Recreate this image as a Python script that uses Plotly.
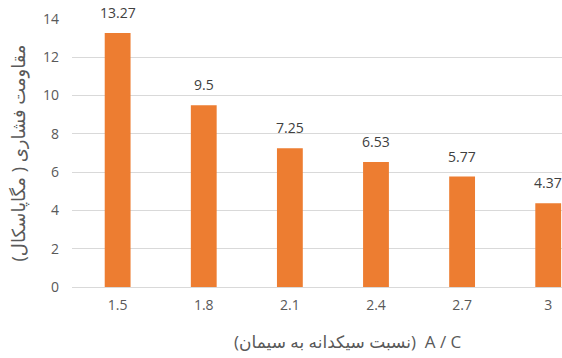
import plotly.graph_objects as go

# Aggregate-to-cement ratio and compressive strength (MPa)
ratios = ["1.5", "1.8", "2.1", "2.4", "2.7", "3"]
strength = [13.27, 9.5, 7.25, 6.53, 5.77, 4.37]
y_ticks = [0, 2, 4, 6, 8, 10, 12, 14]

BAR = "#ED7D31"
GRID = "#D9D9D9"
TICK = "#595959"
LABEL = "#404040"
FONT = "Open Sans, DejaVu Sans, sans-serif"

fig = go.Figure()
fig.add_trace(go.Bar(
    x=list(range(len(ratios))),
    y=strength,
    marker=dict(color=BAR, line=dict(width=0)),
    width=0.3,
    hoverinfo="skip",
))

# value labels above each bar
for i, v in enumerate(strength):
    fig.add_annotation(
        x=i, y=v, text=f"{v:g}", showarrow=False,
        yanchor="bottom", yshift=9,
        font=dict(family=FONT, size=14, color=LABEL),
    )

# x-axis title (right-to-left paragraph)
fig.add_annotation(
    xref="paper", yref="paper", x=0.563, y=-0.205,
    xanchor="center", yanchor="middle", showarrow=False,
    text="\u202bA / C  (نسبت سیکدانه به سیمان)\u202c",
    font=dict(family=FONT, size=17, color=TICK),
)

fig.update_layout(
    width=562, height=358,
    margin=dict(l=72, r=0, t=19, b=71),
    paper_bgcolor="white", plot_bgcolor="white",
    showlegend=False,
    font=dict(family=FONT, color=TICK),
    xaxis=dict(
        range=[-0.53, 5.16],
        tickmode="array",
        tickvals=list(range(len(ratios))),
        ticktext=ratios,
        showgrid=False, zeroline=False, showline=False,
        ticks="", ticklabelstandoff=8,
        tickfont=dict(family=FONT, size=14, color=TICK),
        fixedrange=True,
    ),
    yaxis=dict(
        range=[0, 14],
        tickmode="array", tickvals=y_ticks,
        showgrid=True, gridcolor=GRID, gridwidth=1,
        zeroline=True, zerolinecolor=GRID, zerolinewidth=1,
        showline=False, ticks="", ticklabelstandoff=12,
        tickfont=dict(family=FONT, size=14, color=TICK),
        title=dict(
            text="\u202bمقاومت فشاری ( مگاپاسکال)\u202c",
            font=dict(family=FONT, size=18, color=TICK),
            standoff=12,
        ),
        fixedrange=True,
    ),
)

fig.write_html("out.html")
